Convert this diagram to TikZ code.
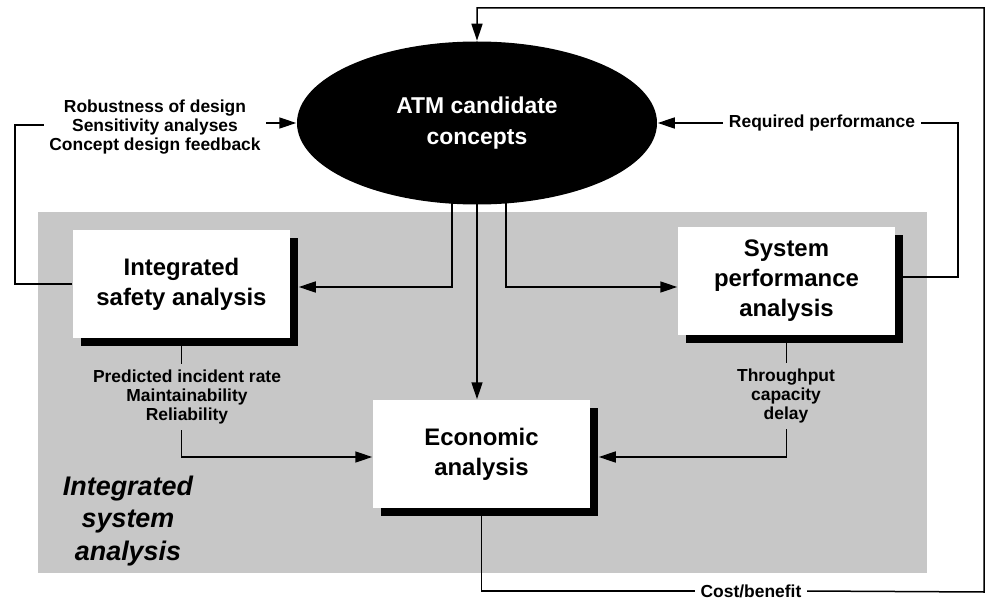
\documentclass[tikz,border=0pt]{standalone}
\usepackage{fontspec}
\setmainfont{Liberation Sans}
\usetikzlibrary{arrows.meta,shapes.geometric,shadows}
\newcommand\boxfont{\fontsize{24}{30}\selectfont\bfseries}
\newcommand\lblfont{\fontsize{17.5}{19.5}\selectfont\bfseries}
\newcommand\regionfont{\fontsize{27}{33}\selectfont\bfseries\itshape}
\begin{document}
\begin{tikzpicture}[x=1bp,y=-1bp,line width=1.5bp,>={Triangle[length=17bp,width=11bp]},
  concept/.style={ellipse,fill=black,text=white,minimum width=360bp,minimum height=163bp,inner sep=0pt,align=center,font=\fontsize{23}{31}\selectfont\bfseries},
  stagebox/.style={rectangle,fill=white,minimum width=217bp,minimum height=108bp,inner sep=0pt,align=center,font=\boxfont,drop shadow={shadow xshift=8bp,shadow yshift=-8bp,opacity=1,fill=black}},
  lbl/.style={align=center,font=\lblfont,inner sep=5bp}]
\useasboundingbox (0,0) rectangle (986,599);
\fill[black!22] (38,212) rectangle (927,573);
\node[concept] (atm) at (477,123) {ATM candidate\\concepts};
\node[stagebox] (safety) at (181.5,284) {Integrated\\safety analysis};
\node[stagebox] (perf) at (786.5,281) {System\\performance\\analysis};
\node[stagebox] (econ) at (481.5,454) {Economic\\analysis};
\node[lbl] (fbtext) at (155,127) {Robustness of design\\Sensitivity analyses\\Concept design feedback};
\node[lbl] (reqtext) at (822,123) {Required performance};
\node[lbl] (safetyout) at (187,397) {Predicted incident rate\\Maintainability\\Reliability};
\node[lbl] (perfout) at (786,396) {Throughput\\capacity\\delay};
\node[lbl] (costtext) at (751,591) {Cost/benefit};
\node[align=center,font=\regionfont] (region) at (128,521) {Integrated\\system\\analysis};
\coordinate (fbcorner) at (15,125);
\coordinate (rqcorner) at (958,123);
\coordinate (loopbot) at (984,592);
\coordinate (looptop) at (984,8);
\draw[->] ([yshift=3bp]atm.south) -- (atm.south |- econ.north);
\draw[->] ([xshift=-25bp,yshift=3bp]atm.south) |- ([xshift=8bp,yshift=-3bp]safety.east);
\draw[->] ([xshift=29bp,yshift=3bp]atm.south) |- ([yshift=-6bp]perf.west);
\draw (safety.west) -| (fbcorner) -- (fbcorner -| fbtext.west);
\draw[->] (fbtext.east |- atm.west) -- (atm.west);
\draw ([yshift=4bp]perf.east) -| (rqcorner) -- (reqtext.east);
\draw[->] (reqtext.west) -- (atm.east);
\draw (safety.south) -- (safetyout.north -| safety.south);
\draw[->] (safetyout.south -| safety.south) |- ([yshift=-3bp]econ.west);
\draw (perf.south) -- (perfout.north -| perf.south);
\draw[->] (perfout.south -| perf.south) |- ([xshift=8bp,yshift=-3bp]econ.east);
\draw (econ.south) |- (costtext.west);
\draw[->] (costtext.east) -- (loopbot) -- (looptop) -| (atm.north);
\end{tikzpicture}
\end{document}
